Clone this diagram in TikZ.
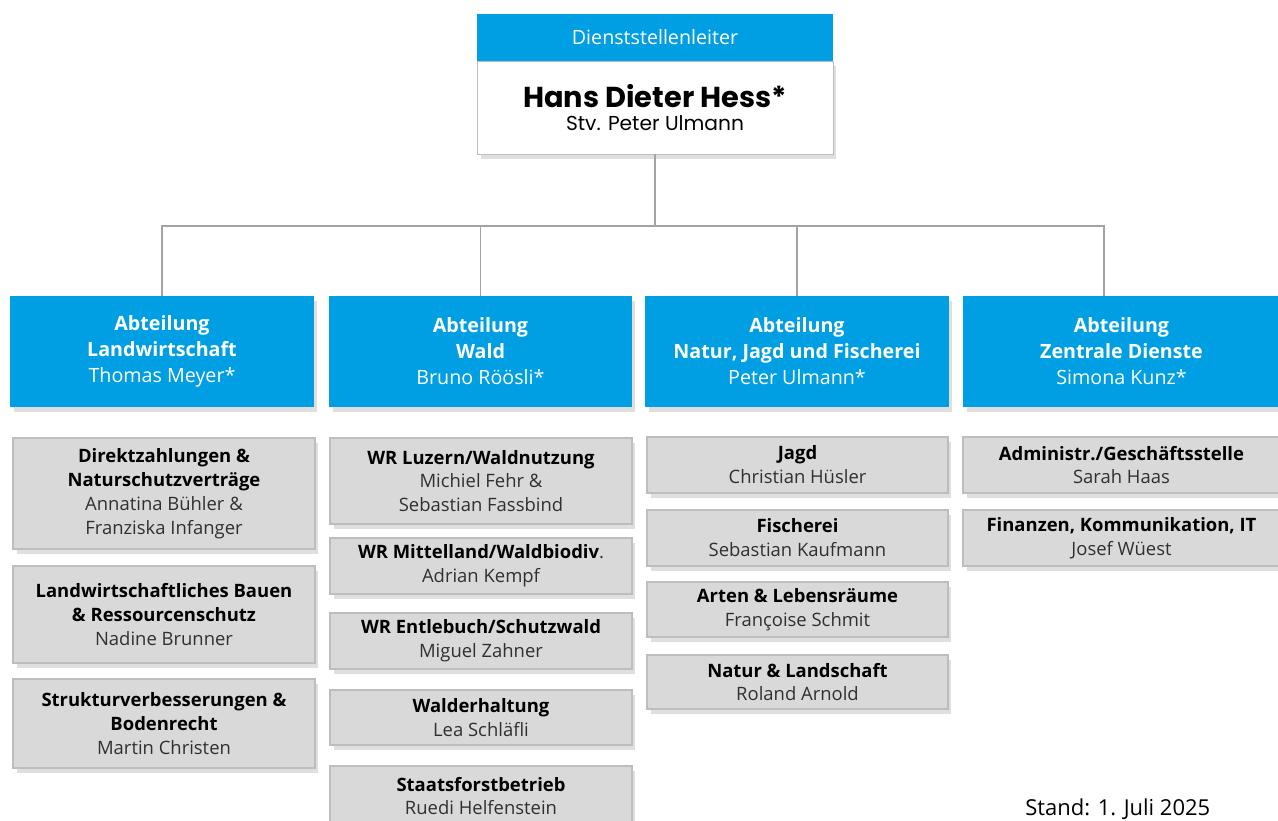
\documentclass[tikz,border=0pt]{standalone}
\usepackage{fontspec}
\setmainfont{Open Sans}
\newfontfamily\headfont{Poppins}
\usetikzlibrary{shadows}
\definecolor{lublue}{HTML}{009FE3}
\definecolor{lugray}{HTML}{D9D9D9}
\definecolor{luline}{HTML}{BDBDBD}
\definecolor{lulink}{HTML}{A3A3A3}
\definecolor{luname}{HTML}{303030}
\newcommand{\unitname}[1]{\textbf{\color{black}#1}}
\begin{document}
\begin{tikzpicture}[x=0.02cm, y=-0.02cm,
    box/.style={align=center, inner sep=0pt, font=\fontsize{10.5}{13.6}\selectfont,
      drop shadow={opacity=.25, shadow xshift=2pt, shadow yshift=-3pt}},
    dept/.style={box, fill=lublue, text=white, minimum height=2.22cm, font=\fontsize{11.2}{14.8}\selectfont},
    unit/.style={box, fill=lugray, draw=luline, line width=.8pt, text=luname},
    link/.style={draw=lulink, line width=1.1pt}]
      \useasboundingbox (0,0) rectangle (1278,821);
      \node[box, fill=white, draw=luline, minimum width=7.12cm, minimum height=1.86cm] (chief) at (655, 107.5)
        {{\headfont\bfseries\fontsize{16.4}{20}\selectfont Hans Dieter Hess*}\\[-1pt]{\headfont\fontsize{11.5}{14}\selectfont Stv. Peter Ulmann}};
      \node[align=center, inner sep=0pt, fill=lublue, text=white, minimum width=7.12cm, minimum height=.94cm,
        font=\fontsize{11.2}{13}\selectfont] (chiefhead) at (655, 37.5) {Dienststellenleiter};
      \node[dept, minimum width=6.08cm] (ab1) at (162, 351.5) {\textbf{Abteilung}\\\textbf{Landwirtschaft}\\Thomas Meyer*};
      \node[dept, minimum width=6.06cm] (ab2) at (480.5, 351.5) {\textbf{Abteilung}\\\textbf{Wald}\\Bruno Röösli*};
      \node[dept, minimum width=6.08cm] (ab3) at (797, 351.5) {\textbf{Abteilung}\\\textbf{Natur, Jagd und Fischerei}\\Peter Ulmann*};
      \node[dept, minimum width=6.34cm] (ab4) at (1121.5, 351.5) {\textbf{Abteilung}\\\textbf{Zentrale Dienste}\\Simona Kunz*};
      \coordinate (bar) at (655, 226);
      \draw[link] (chief.south) -- (bar);
      \draw[link] (ab1.north) |- (bar);
      \draw[link] (ab2.north) |- (bar);
      \draw[link] (ab3.north) |- (bar);
      \draw[link] ([xshift=-10pt]ab4.north) |- (bar);
      \node[unit, minimum width=6.04cm, minimum height=2.22cm] (lw1) at (164, 493.5) {\unitname{Direktzahlungen \&}\\\unitname{Naturschutzverträge}\\Annatina Bühler \&\\Franziska Infanger};
      \node[unit, minimum width=6.04cm, minimum height=1.94cm] (lw2) at (164, 614.5) {\unitname{Landwirtschaftliches Bauen}\\\unitname{\& Ressourcenschutz}\\Nadine Brunner};
      \node[unit, minimum width=6.04cm, minimum height=1.78cm] (lw3) at (164, 723.5) {\unitname{Strukturverbesserungen \&}\\\unitname{Bodenrecht}\\Martin Christen};
      \node[unit, minimum width=6.04cm, minimum height=1.72cm] (wa1) at (481, 481) {\unitname{WR Luzern/Waldnutzung}\\Michiel Fehr \&\\Sebastian Fassbind};
      \node[unit, minimum width=6.04cm, minimum height=1.12cm] (wa2) at (481, 566) {\unitname{WR Mittelland/Waldbiodiv}.\\Adrian Kempf};
      \node[unit, minimum width=6.04cm, minimum height=1.12cm] (wa3) at (481, 641) {\unitname{WR Entlebuch/Schutzwald}\\Miguel Zahner};
      \node[unit, minimum width=6.04cm, minimum height=1.1cm] (wa4) at (481, 717.5) {\unitname{Walderhaltung}\\Lea Schläfli};
      \node[unit, minimum width=6.04cm, minimum height=1.2cm] (wa5) at (481, 796) {\unitname{Staatsforstbetrieb}\\Ruedi Helfenstein};
      \node[unit, minimum width=6.02cm, minimum height=1.12cm] (nj1) at (797.5, 465) {\unitname{Jagd}\\Christian Hüsler};
      \node[unit, minimum width=6.02cm, minimum height=1.12cm] (nj2) at (797.5, 538) {\unitname{Fischerei}\\Sebastian Kaufmann};
      \node[unit, minimum width=6.02cm, minimum height=1.1cm] (nj3) at (797.5, 609.5) {\unitname{Arten \& Lebensräume}\\Françoise Schmit};
      \node[unit, minimum width=6.02cm, minimum height=1.08cm] (nj4) at (797.5, 682) {\unitname{Natur \& Landschaft}\\Roland Arnold};
      \node[unit, minimum width=6.34cm, minimum height=1.12cm] (zd1) at (1121.5, 465) {\unitname{Administr./Geschäftsstelle}\\Sarah Haas};
      \node[unit, minimum width=6.34cm, minimum height=1.12cm] (zd2) at (1121.5, 538) {\unitname{Finanzen, Kommunikation, IT}\\Josef Wüest};
      \node[anchor=north west, inner sep=0pt, font=\fontsize{12.5}{14}\selectfont] (stand) at (1025, 798) {Stand: 1. Juli 2025};
    \end{tikzpicture}
\end{document}
